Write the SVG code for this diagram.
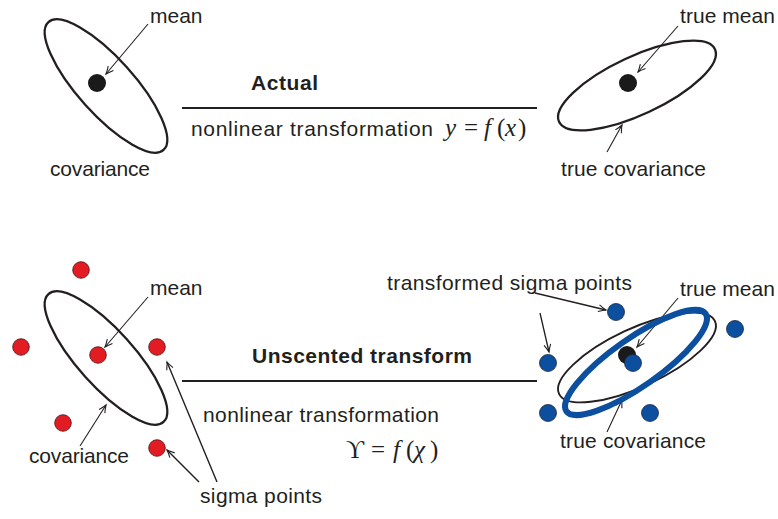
<svg xmlns="http://www.w3.org/2000/svg" width="778" height="519" viewBox="0 0 778 519">
<style>
.t{font-family:"Liberation Sans","Open Sans",sans-serif;font-size:21px;fill:#231f20}
.b{font-weight:bold}
.m{font-family:"Liberation Serif","DejaVu Serif",serif;font-size:25px;fill:#231f20}
.i{font-style:italic}
.el{fill:none;stroke:#231f20;stroke-width:2.3}
.ar{stroke:#231f20;stroke-width:1.1;fill:none;marker-end:url(#ah)}
.rule{stroke:#231f20;stroke-width:2.2}
.red{fill:#e31b23;stroke:#4a1414;stroke-width:0.8}
.blue{fill:#0c4f9f;stroke:#1b2840;stroke-width:0.8}
.dot{fill:#1a1a1a}
</style>
<defs>
<marker id="ah" viewBox="-10 -5 12 10" markerWidth="12" markerHeight="10" refX="0" refY="0" orient="auto" markerUnits="userSpaceOnUse">
<path d="M-7.5,-3.4 Q-2.5,-0.8 0,0 Q-2.5,0.8 -7.5,3.4" fill="none" stroke="#231f20" stroke-width="1.1"/>
</marker>
</defs>

<g id="connectors">
<line class="rule" x1="182" y1="108" x2="537" y2="108"/>
<line class="rule" x1="182" y1="381" x2="537" y2="381"/>
<line class="ar" x1="148" y1="24" x2="106" y2="74"/>
<line class="ar" x1="678" y1="26" x2="638" y2="72"/>
<line class="ar" x1="607" y1="152" x2="622" y2="125"/>
<line class="ar" x1="148" y1="297" x2="105" y2="347"/>
<line class="ar" x1="80" y1="446" x2="106" y2="405"/>
<line class="ar" x1="217" y1="482" x2="167" y2="362" style="stroke-width:1.4"/>
<line class="ar" x1="199" y1="482" x2="167" y2="450" style="stroke-width:1.4"/>
<line class="ar" x1="535" y1="293" x2="606" y2="310" style="stroke-width:1.3"/>
<line class="ar" x1="540" y1="313" x2="549" y2="352" style="stroke-width:1.3"/>
<line class="ar" x1="678" y1="298" x2="637" y2="347"/>
<line class="ar" x1="607" y1="432" x2="622" y2="400"/>
</g>

<g id="input-actual">
<ellipse class="el" cx="106" cy="86" rx="86" ry="28" transform="rotate(48 106 86)"/>
<circle class="dot" cx="97" cy="83" r="9"/>
<text class="t" x="150" y="23">mean</text>
<text class="t" x="50" y="176" textLength="100">covariance</text>
</g>

<g id="output-actual">
<ellipse class="el" cx="637" cy="85.5" rx="86" ry="29" transform="rotate(-25 637 85.5)"/>
<circle class="dot" cx="628" cy="83" r="9"/>
<text class="t" x="680" y="23" textLength="95">true mean</text>
<text class="t" x="561" y="176" textLength="145">true covariance</text>
</g>

<g id="label-actual">
<text class="t b" x="251" y="90" textLength="67">Actual</text>
<text class="t" x="191" y="136" textLength="242">nonlinear transformation</text>
<text class="m"><tspan class="i" x="445" y="136">y</tspan><tspan x="464" y="136">=</tspan><tspan class="i" x="484" y="136">f</tspan><tspan x="497" y="136">(</tspan><tspan class="i" x="505" y="136">x</tspan><tspan x="518" y="136">)</tspan></text>
</g>

<g id="input-ut">
<ellipse class="el" cx="106" cy="358" rx="86" ry="28" transform="rotate(48 106 358)"/>
<circle class="red" cx="81" cy="270" r="8.3"/>
<circle class="red" cx="21" cy="347" r="8.3"/>
<circle class="red" cx="98" cy="355" r="8.3"/>
<circle class="red" cx="157" cy="347" r="8.3"/>
<circle class="red" cx="63" cy="423" r="8.3"/>
<circle class="red" cx="157" cy="448" r="8.3"/>
<text class="t" x="150" y="295">mean</text>
<text class="t" x="29" y="463" textLength="100">covariance</text>
<text class="t" x="200" y="503" textLength="122">sigma points</text>
</g>

<g id="label-ut">
<text class="t b" x="252" y="363" textLength="220">Unscented transform</text>
<text class="t" x="203" y="422" textLength="236">nonlinear transformation</text>
<text class="m"><tspan x="346" y="458">ϒ</tspan><tspan x="371" y="458">=</tspan><tspan class="i" x="393" y="458">f</tspan><tspan x="406" y="458">(</tspan><tspan class="i" x="414" y="458">χ</tspan><tspan x="430" y="458">)</tspan></text>
</g>

<g id="output-ut">
<ellipse class="el" cx="637" cy="357.5" rx="86" ry="29" transform="rotate(-25 637 357.5)" style="stroke-width:1.9"/>
<circle class="blue" cx="616" cy="312" r="8.5"/>
<circle class="blue" cx="735" cy="329" r="8.5"/>
<circle class="blue" cx="548" cy="363" r="8.5"/>
<circle class="blue" cx="548" cy="413" r="8.5"/>
<circle class="blue" cx="650" cy="413" r="8.5"/>
<circle class="dot" cx="627" cy="355" r="9"/>
<circle class="blue" cx="633" cy="363" r="8.5"/>
<ellipse cx="636" cy="362.5" rx="85" ry="24" transform="rotate(-35 636 362.5)" fill="none" stroke="#0c4f9f" stroke-width="6"/>
<text class="t" x="387" y="290" textLength="245">transformed sigma points</text>
<text class="t" x="680" y="296" textLength="95">true mean</text>
<text class="t" x="560" y="448" textLength="146">true covariance</text>
</g>
</svg>
